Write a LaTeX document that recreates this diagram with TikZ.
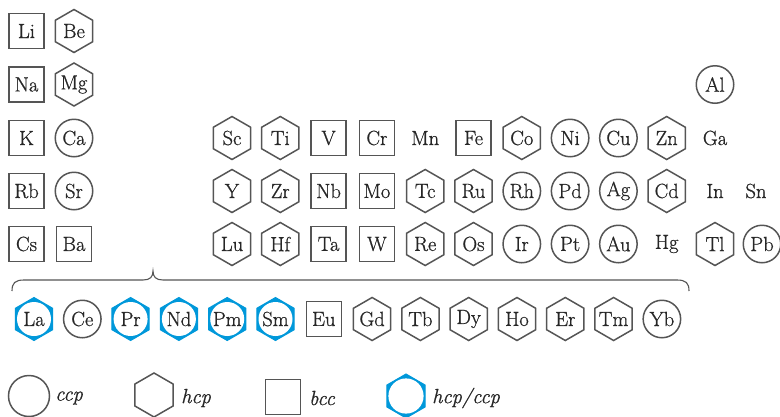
\documentclass[tikz,border=0pt]{standalone}
\usepackage{fontspec}
\newfontfamily\elfont{Latin Modern Roman}[FakeBold=0.8]
\usetikzlibrary{shapes.geometric}
\definecolor{edgegray}{RGB}{85,85,85}
\definecolor{hcpblue}{RGB}{0,152,218}
\begin{document}
\begin{tikzpicture}[x=1pt,y=-1pt,
  every node/.style={inner sep=0pt},
  eltext/.style={font=\elfont\fontsize{20.5}{24}\selectfont, text=black!85},
  bccbox/.style={draw=edgegray, line width=1.5pt, rectangle, minimum size=35pt},
  ccpbox/.style={draw=edgegray, line width=1.5pt, circle, minimum size=37.5pt},
  hcpbox/.style={draw=edgegray, line width=1.5pt, regular polygon, regular polygon sides=6, shape border rotate=90, minimum size=43pt},
  mixbox/.style={fill=hcpblue, draw=hcpblue, line width=1pt, regular polygon, regular polygon sides=6, shape border rotate=90, minimum size=43pt,
    path picture={\fill[white] (path picture bounding box.center) circle (17pt);}},
  plain/.style={},
  legtext/.style={anchor=west, font=\elfont\itshape\fontsize{20.5}{24}\selectfont, text=black!85},
  bracestyle/.style={draw=edgegray, line width=1.1pt}
]
\useasboundingbox (0,0) rectangle (780,416);

% groups 1 and 2, and single elements
\foreach \nm/\st/\x/\y in {Li/bccbox/26.5/31, Be/hcpbox/74/31, Na/bccbox/26.5/84.5, Mg/hcpbox/74/84.5,
  K/bccbox/26.5/138, Ca/ccpbox/74/138, Rb/bccbox/26.5/191, Sr/ccpbox/74/191, Cs/bccbox/26.5/244, Ba/bccbox/74/244,
  Al/ccpbox/715/84.5, Sn/plain/756/191, Pb/ccpbox/762/244}
  \node[\st, label={[eltext]center:\nm}] (\nm) at (\x,\y) {};

% period 4
\foreach \nm/\st/\k in {Sc/hcpbox/0, Ti/hcpbox/1, V/bccbox/2, Cr/bccbox/3, Mn/plain/4, Fe/bccbox/5, Co/hcpbox/6, Ni/ccpbox/7, Cu/ccpbox/8, Zn/hcpbox/9, Ga/plain/10}
  \node[\st, label={[eltext]center:\nm}] (\nm) at (232+48.3*\k,138) {};
% period 5
\foreach \nm/\st/\k in {Y/hcpbox/0, Zr/hcpbox/1, Nb/bccbox/2, Mo/bccbox/3, Tc/hcpbox/4, Ru/hcpbox/5, Rh/ccpbox/6, Pd/ccpbox/7, Ag/ccpbox/8, Cd/hcpbox/9, In/plain/10}
  \node[\st, label={[eltext]center:\nm}] (\nm) at (232+48.3*\k,191) {};
% period 6
\foreach \nm/\st/\k in {Lu/hcpbox/0, Hf/hcpbox/1, Ta/bccbox/2, W/bccbox/3, Re/hcpbox/4, Os/hcpbox/5, Ir/ccpbox/6, Pt/ccpbox/7, Au/ccpbox/8, Hg/plain/9, Tl/hcpbox/10}
  \node[\st, label={[eltext]center:\nm}] (\nm) at (232+48.3*\k,244) {};

% brace
\coordinate (bl) at (12,291);
\coordinate (br) at (689,291);
\coordinate (bt) at (153,271);
\draw[bracestyle] (bl) .. controls (12,283) and (15,280) .. (24,280) -- (143,280)
  .. controls (150,280) and (153,277) .. (bt)
  .. controls (153,277) and (156,280) .. (163,280) -- (677,280)
  .. controls (686,280) and (689,283) .. (br);

% lanthanides
\foreach \nm/\st/\k in {La/mixbox/0, Ce/ccpbox/1, Pr/mixbox/2, Nd/mixbox/3, Pm/mixbox/4, Sm/mixbox/5, Eu/bccbox/6, Gd/hcpbox/7, Tb/hcpbox/8, Dy/hcpbox/9, Ho/hcpbox/10, Er/hcpbox/11, Tm/hcpbox/12, Yb/ccpbox/13}
  \node[\st, label={[eltext]center:\nm}] (\nm) at (34+48.3*\k,319) {};

% legend
\node[ccpbox, minimum size=41pt] (lccp) at (29,396) {};
\node[legtext] (tccp) at (55,398) {ccp};
\node[hcpbox, minimum size=44pt] (lhcp) at (154,395) {};
\node[legtext] (thcp) at (181,398) {hcp};
\node[bccbox, minimum size=35pt] (lbcc) at (283,397) {};
\node[legtext] (tbcc) at (309,398) {bcc};
\node[mixbox, minimum size=44pt, path picture={\fill[white] (path picture bounding box.center) circle (17.6pt);}] (lmix) at (406,396) {};
\node[legtext] (tmix) at (432,398) {hcp/ccp};
\end{tikzpicture}
\end{document}
